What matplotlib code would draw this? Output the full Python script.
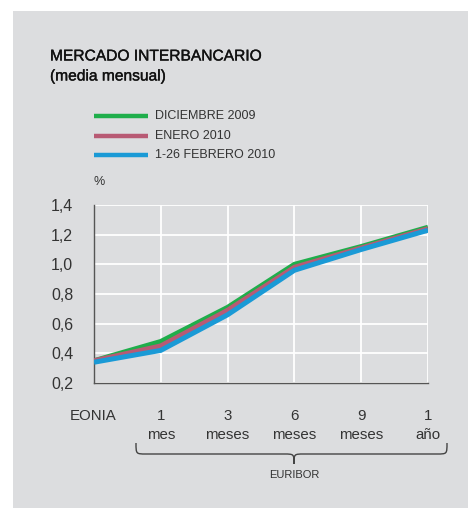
import matplotlib
matplotlib.use("Agg")
import matplotlib.pyplot as plt
from matplotlib.patches import Rectangle, PathPatch
from matplotlib.path import Path
import matplotlib.patheffects as pe

# ---- data ----
categories = ["EONIA", "1\nmes", "3\nmeses", "6\nmeses", "9\nmeses", "1\naño"]
dic_2009 = [0.35, 0.48, 0.71, 1.00, 1.12, 1.25]
ene_2010 = [0.35, 0.45, 0.69, 0.98, 1.11, 1.24]
feb_2010 = [0.34, 0.42, 0.66, 0.96, 1.10, 1.23]
series_names = ["DICIEMBRE 2009", "ENERO 2010", "1-26 FEBRERO 2010"]
colors = ["#1fae4b", "#b85a74", "#1a9ad6"]
yticks = [0.2, 0.4, 0.6, 0.8, 1.0, 1.2, 1.4]

W, H = 468, 508
fig = plt.figure(figsize=(W / 100, H / 100), dpi=100)
fig.patch.set_facecolor("white")
plt.rcParams["font.family"] = ["Liberation Sans", "DejaVu Sans"]
txt = "#333333"

# gray panel
fig.patches.append(Rectangle((13 / W, 0), 1 - 13 / W, 1 - 11 / H,
                             transform=fig.transFigure, facecolor="#dcdddf",
                             edgecolor="none", zorder=-5))

def fx(px):
    return px / W

def fy(py):
    return 1 - py / H

ax = fig.add_axes([fx(94), fy(383), fx(428) - fx(94), fy(205) - fy(383)])
ax.set_zorder(1)
ax.set_facecolor("none")
x = list(range(len(categories)))
for vals, c in zip([dic_2009, ene_2010, feb_2010], colors):
    ax.plot(x, vals, color=c, lw=3.6, solid_capstyle="butt", solid_joinstyle="miter", zorder=3)

ax.set_xlim(0, len(categories) - 1)
ax.set_ylim(0.2, 1.4)
ax.set_yticks(yticks)
ax.set_yticklabels([f"{v:.1f}".replace(".", ",") for v in yticks], fontsize=11.5, color=txt)
ax.set_xticks(x)
ax.set_xticklabels([])
ax.grid(True, color="white", lw=1.3, zorder=1)
ax.tick_params(length=0, pad=15)
for s in ["top", "right"]:
    ax.spines[s].set_visible(False)
for s in ["left", "bottom"]:
    ax.spines[s].set_color("#555555")
    ax.spines[s].set_linewidth(1.0)
    ax.spines[s].set_zorder(2)

# x labels
for i, lab in enumerate(categories):
    xd = ax.transData.transform((i, 0))[0] / W
    parts = lab.split("\n")
    xpos = xd if i > 0 else fx(93)
    fig.text(xpos, fy(416), parts[0], ha="center", va="center", fontsize=10.8, color=txt)
    if len(parts) > 1:
        fig.text(xpos, fy(435), parts[1], ha="center", va="center", fontsize=10.8, color=txt)

# brace under EURIBOR
xl, xr, xm = 136, 447, 294
yt, yh, yb = 443, 454, 464
r = 10
verts = [
    (xl, yt), (xl, yh), (xl, yh), (xl + r, yh),
    (xm - r, yh), (xm, yh), (xm, yh), (xm, yb),
    (xm, yh), (xm, yh), (xm + r, yh),
    (xr - r, yh), (xr, yh), (xr, yh), (xr, yt),
]
codes = [Path.MOVETO, Path.CURVE4, Path.CURVE4, Path.CURVE4,
         Path.LINETO, Path.CURVE4, Path.CURVE4, Path.CURVE4,
         Path.CURVE4, Path.CURVE4, Path.CURVE4,
         Path.LINETO, Path.CURVE4, Path.CURVE4, Path.CURVE4]
verts_f = [(fx(a), fy(b)) for a, b in verts]
fig.patches.append(PathPatch(Path(verts_f, codes), transform=fig.transFigure,
                             facecolor="none", edgecolor="#444444", lw=1.0))
fig.text(fx(xm), fy(475), "EURIBOR", ha="center", va="center", fontsize=8, color=txt)

# title
stroke = [pe.withStroke(linewidth=0.25, foreground="#111111")]
fig.text(fx(50), fy(56), "MERCADO INTERBANCARIO", ha="left", va="center",
         fontsize=11.2, color="#111111", path_effects=stroke)
fig.text(fx(50), fy(76), "(media mensual)", ha="left", va="center",
         fontsize=11.2, color="#111111", path_effects=stroke)

# legend
for k, (name, c) in enumerate(zip(series_names, colors)):
    yy = [116, 136, 155][k]
    fig.lines.append(plt.Line2D([fx(94), fx(148)], [fy(yy), fy(yy)],
                                transform=fig.transFigure, color=c, lw=3.2,
                                solid_capstyle="butt"))
    fig.text(fx(155), fy(yy), name, ha="left", va="center", fontsize=9, color=txt)

fig.text(fx(93), fy(182), "%", ha="left", va="center", fontsize=9, color=txt)

fig.savefig("out.png", dpi=100, facecolor=fig.get_facecolor())
